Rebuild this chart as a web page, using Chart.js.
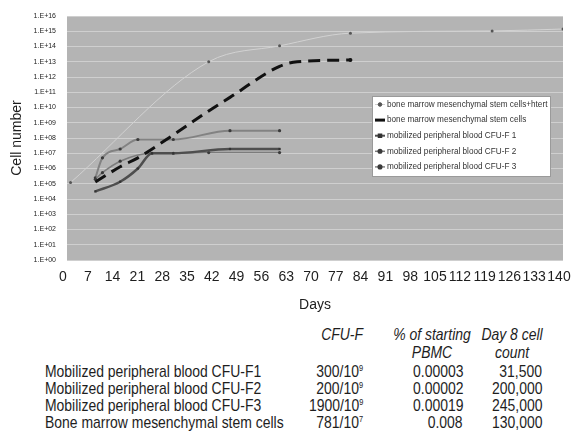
<!DOCTYPE html>
<html>
<head>
<meta charset="utf-8">
<script src="https://cdn.jsdelivr.net/npm/chart.js@4.4.7/dist/chart.umd.min.js"></script>
<style>
  html, body { margin: 0; padding: 0; background: #fff; }
  #page {
    position: relative; width: 575px; height: 434px; overflow: hidden;
    font-family: "Liberation Sans", Arial, sans-serif; color: #1e1e1e;
  }
  #chartBox { position: absolute; left: 0; top: 0; width: 575px; height: 318px; }
  .cell { position: absolute; font-size: 17px; line-height: 17px; white-space: nowrap; transform: scaleX(0.82); }
  .hdr { font-style: italic; }
  sup { font-size: 9px; line-height: 0; vertical-align: 6px; }
</style>
</head>
<body>
<div id="page">
  <div id="chartBox"><canvas id="growthChart"></canvas></div>
  <div id="table"></div>
</div>
<script>
  var FONT = "'Liberation Sans', Arial, sans-serif";

  // axis ticks
  var xTickValues = [0, 7, 14, 21, 28, 35, 42, 49, 56, 63, 70, 77, 84, 91, 98, 105, 112, 119, 126, 133, 140];
  var yTickValues = [1e0, 1e1, 1e2, 1e3, 1e4, 1e5, 1e6, 1e7, 1e8, 1e9, 1e10, 1e11, 1e12, 1e13, 1e14, 1e15, 1e16];
  var yTickLabels = ["1.E+00", "1.E+01", "1.E+02", "1.E+03", "1.E+04", "1.E+05", "1.E+06", "1.E+07", "1.E+08",
                     "1.E+09", "1.E+10", "1.E+11", "1.E+12", "1.E+13", "1.E+14", "1.E+15", "1.E+16"];

  // series (days, cell number)
  var htertDays = [1, 40, 60, 80, 120, 140];
  var htertCells = [1.2e5, 1e13, 1.1e14, 7.5e14, 1.05e15, 1.4e15];

  var bmDays = [8, 15, 20, 30, 40, 46, 60, 65, 80];
  var bmCells = [1.3e5, 1.3e6, 5e6, 1.6e8, 6e9, 4.6e10, 5e12, 1e13, 1.3e13];

  var f1Days = [8, 15, 20, 24, 30, 46, 60];
  var f1Cells = [3.15e4, 1.35e5, 1e6, 1e7, 1e7, 1.9e7, 1.9e7];

  var f2Days = [8, 10, 15, 24, 30, 40, 60];
  var f2Cells = [2e5, 5.3e5, 3e6, 1e7, 1e7, 1.1e7, 1.1e7];

  var f3Days = [8, 10, 15, 20, 30, 46, 60];
  var f3Cells = [2.45e5, 5e6, 1.9e7, 8e7, 8e7, 3e8, 3e8];

  // table below the chart
  var rowNames = ["Mobilized peripheral blood CFU-F1", "Mobilized peripheral blood CFU-F2",
                  "Mobilized peripheral blood CFU-F3", "Bone marrow mesenchymal stem cells"];
  var cfuCounts = ["300", "200", "1900", "781"];
  var cfuPowers = ["9", "9", "9", "7"];
  var pbmcPercent = ["0.00003", "0.00002", "0.00019", "0.008"];
  var day8Counts = ["31,500", "200,000", "245,000", "130,000"];

  function pts(days, cells) {
    return days.map(function (d, i) { return { x: d, y: cells[i] }; });
  }

  var plotBackground = {
    id: "plotBackground",
    beforeDraw: function (chart) {
      var a = chart.chartArea, ctx = chart.ctx;
      ctx.save();
      ctx.fillStyle = "#b4b4b4";
      ctx.fillRect(a.left, a.top, a.right - a.left, a.bottom - a.top);
      ctx.restore();
    }
  };

  var boxLegend = {
    id: "boxLegend",
    afterDatasetsDraw: function (chart) {
      var ctx = chart.ctx;
      var x = 372, y = 96, w = 178, h = 80, rowH = 15.6;
      ctx.save();
      ctx.fillStyle = "#fff";
      ctx.fillRect(x, y, w, h);
      ctx.strokeStyle = "#9a9a9a";
      ctx.lineWidth = 1;
      ctx.strokeRect(x + 0.5, y + 0.5, w, h);
      ctx.font = "8.2px " + FONT;
      ctx.textBaseline = "middle";
      chart.data.datasets.forEach(function (ds, i) {
        var cy = y + 8.5 + i * rowH;
        ctx.setLineDash([]);
        ctx.strokeStyle = ds.borderColor;
        ctx.lineWidth = ds.legendWidth;
        ctx.beginPath();
        ctx.moveTo(x + 3, cy);
        ctx.lineTo(x + 13, cy);
        ctx.stroke();
        if (ds.legendMarker) {
          ctx.fillStyle = ds.pointBackgroundColor;
          ctx.strokeStyle = ds.pointBackgroundColor;
          Chart.helpers.drawPoint(ctx, { pointStyle: ds.pointStyle, radius: 1.8, borderWidth: 1, rotation: 0 }, x + 8, cy);
        }
        ctx.fillStyle = "#333";
        ctx.fillText(ds.label, x + 15, cy);
      });
      ctx.restore();
    }
  };

  new Chart(document.getElementById("growthChart"), {
    type: "scatter",
    data: {
      datasets: [
        {
          label: "bone marrow mesenchymal stem cells+htert",
          data: pts(htertDays, htertCells),
          borderColor: "#d2d2d2", borderWidth: 1,
          pointRadius: 1.5, pointStyle: "circle",
          pointBackgroundColor: "#555", pointBorderColor: "#555", pointBorderWidth: 0,
          legendWidth: 1, legendMarker: true,
        },
        {
          label: "bone marrow mesenchymal stem cells",
          data: pts(bmDays, bmCells),
          borderColor: "#111", borderWidth: 3, borderDash: [12, 7],
          pointRadius: function (c) { return c.dataIndex === bmDays.length - 1 ? 2 : 0; },
          pointBackgroundColor: "#111", pointBorderColor: "#111", pointBorderWidth: 0,
          legendWidth: 3, legendMarker: false,
        },
        {
          label: "mobilized peripheral blood CFU-F 1",
          data: pts(f1Days, f1Cells),
          borderColor: "#4e4e4e", borderWidth: 2.5,
          pointRadius: 1.6, pointStyle: "rect",
          pointBackgroundColor: "#333", pointBorderColor: "#333", pointBorderWidth: 0,
          legendWidth: 2, legendMarker: true,
        },
        {
          label: "mobilized peripheral blood CFU-F 2",
          data: pts(f2Days, f2Cells),
          borderColor: "#7c7c7c", borderWidth: 1.5,
          pointRadius: 1.6, pointStyle: "circle",
          pointBackgroundColor: "#3a3a3a", pointBorderColor: "#3a3a3a", pointBorderWidth: 0,
          legendWidth: 1.5, legendMarker: true,
        },
        {
          label: "mobilized peripheral blood CFU-F 3",
          data: pts(f3Days, f3Cells),
          borderColor: "#828282", borderWidth: 2,
          pointRadius: 1.6, pointStyle: "circle",
          pointBackgroundColor: "#3a3a3a", pointBorderColor: "#3a3a3a", pointBorderWidth: 0,
          legendWidth: 1.5, legendMarker: true,
        },
      ],
    },
    options: {
      responsive: true,
      maintainAspectRatio: false,
      animation: false,
      showLine: true,
      layout: { padding: { left: 0, top: 16, right: 12, bottom: 0 } },
      elements: { line: { cubicInterpolationMode: "monotone" } },
      plugins: {
        legend: { display: false },
        tooltip: { enabled: false },
      },
      scales: {
        x: {
          type: "linear",
          min: 0, max: 140,
          afterBuildTicks: function (s) { s.ticks = xTickValues.map(function (v) { return { value: v }; }); },
          afterFit: function (s) { s.height = 58; s.paddingLeft = 0; s.paddingRight = 0; },
          grid: { display: false, drawTicks: false },
          border: { display: false },
          ticks: {
            autoSkip: false, maxRotation: 0, padding: 9, labelOffset: -4,
            color: "#1e1e1e", font: { family: FONT, size: 14 },
          },
          title: {
            display: true, text: "Days", color: "#1e1e1e",
            font: { family: FONT, size: 14 }, padding: { top: 0, bottom: 4 },
          },
        },
        y: {
          type: "logarithmic",
          min: 1, max: 1e16,
          afterBuildTicks: function (s) { s.ticks = yTickValues.map(function (v) { return { value: v }; }); },
          afterFit: function (s) { s.width = 67; },
          grid: { color: "#cfcfcf", lineWidth: 1, drawTicks: false },
          border: { display: false },
          ticks: {
            autoSkip: false, padding: 11,
            color: "#1e1e1e", font: { family: FONT, size: 7 },
            callback: function (v, i) { return yTickLabels[i]; },
          },
          title: {
            display: true, text: "Cell number", color: "#1e1e1e",
            font: { family: FONT, size: 14 }, padding: { top: 9, bottom: 0 },
          },
        },
      },
    },
    plugins: [plotBackground, boxLegend],
  });

  function addCell(html, style, cls) {
    var d = document.createElement("div");
    d.className = "cell" + (cls ? " " + cls : "");
    d.innerHTML = html;
    Object.assign(d.style, style);
    document.getElementById("table").appendChild(d);
  }

  var RIGHT = { transformOrigin: "right center", textAlign: "right" };
  var CENTER = { transformOrigin: "center center", textAlign: "center", width: "100px" };

  addCell("CFU-F", Object.assign({ top: "326px", right: (575 - 363) + "px" }, RIGHT), "hdr");
  addCell("% of starting", Object.assign({ top: "326px", left: "382px" }, CENTER), "hdr");
  addCell("PBMC", Object.assign({ top: "344px", left: "382px" }, CENTER), "hdr");
  addCell("Day 8 cell", Object.assign({ top: "326px", left: "462px" }, CENTER), "hdr");
  addCell("count", Object.assign({ top: "344px", left: "462px" }, CENTER), "hdr");

  rowNames.forEach(function (name, i) {
    var top = (363 + i * 17) + "px";
    addCell(name, { top: top, left: "45px", transformOrigin: "left center" });
    addCell(cfuCounts[i] + "/10<sup>" + cfuPowers[i] + "</sup>", Object.assign({ top: top, right: (575 - 363) + "px" }, RIGHT));
    addCell(pbmcPercent[i], Object.assign({ top: top, right: (575 - 463) + "px" }, RIGHT));
    addCell(day8Counts[i], Object.assign({ top: top, right: (575 - 542) + "px" }, RIGHT));
  });
</script>
</body>
</html>
